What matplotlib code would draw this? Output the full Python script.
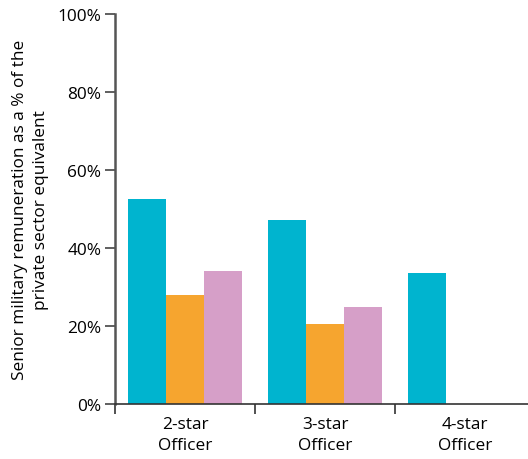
import numpy as np
import matplotlib.pyplot as plt

plt.rcParams['font.family'] = ['Open Sans', 'DejaVu Sans']

# Data
categories = ['2-star\nOfficer', '3-star\nOfficer', '4-star\nOfficer']
series_a = [52.6, 47.2, 33.6]
series_b = [28.0, 20.5, np.nan]
series_c = [34.1, 24.9, np.nan]
colors = ['#00B4CF', '#F6A52F', '#D69FC8']

fig = plt.figure(figsize=(5.28, 4.6), dpi=100)
ax = fig.add_axes([0.218, 0.12, 0.782, 0.847])

x = np.arange(len(categories))
w = 0.27
for i, (vals, c) in enumerate(zip([series_a, series_b, series_c], colors)):
    ax.bar(x + (i - 1) * w, vals, width=w, color=c)

fs = 12.4
ax.set_ylim(0, 100)
ax.set_xlim(-0.5, 2.45)
ax.set_yticks(np.arange(0, 101, 20))
ax.set_yticklabels([f'{v}%' for v in range(0, 101, 20)], fontsize=fs)

# boundaries as major ticks, labels on minor ticks at group centres
ax.set_xticks([-0.5, 0.5, 1.5])
ax.set_xticklabels([])
ax.set_xticks(x, minor=True)
ax.set_xticklabels(categories, minor=True, fontsize=fs, linespacing=1.4)
ax.tick_params(axis='x', which='minor', length=0, pad=9)
ax.tick_params(axis='x', which='major', length=7, width=1.2, color='#333333')
ax.tick_params(axis='y', length=7, width=1.2, color='#444444', pad=3)

for s in ['top', 'right']:
    ax.spines[s].set_visible(False)
ax.spines['left'].set_color('#555555')
ax.spines['left'].set_linewidth(1.8)
ax.spines['bottom'].set_color('#333333')
ax.spines['bottom'].set_linewidth(1.2)

ax.set_ylabel('Senior military remuneration as a % of the\nprivate sector equivalent',
              fontsize=fs, labelpad=6, linespacing=1.45)

fig.savefig('out.png', dpi=100)
